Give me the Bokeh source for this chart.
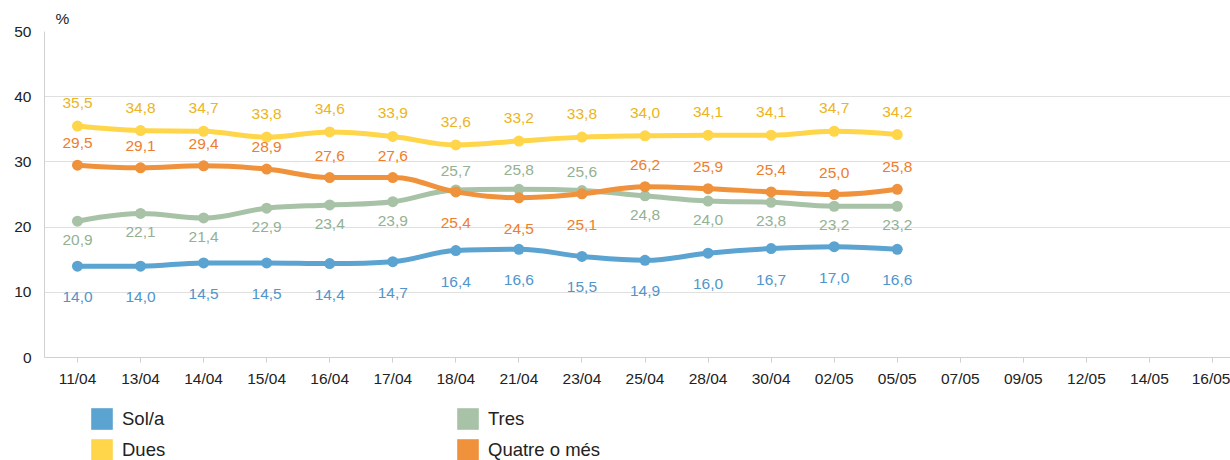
from bokeh.plotting import figure
from bokeh.layouts import column
from bokeh.models import Range1d, FixedTicker, Legend, LegendItem, ColumnDataSource
from bokeh.core.properties import value
from bokeh.embed import file_html
from bokeh.resources import INLINE

# ---- data ----
dates = ["11/04", "13/04", "14/04", "15/04", "16/04", "17/04", "18/04", "21/04",
         "23/04", "25/04", "28/04", "30/04", "02/05", "05/05", "07/05", "09/05",
         "12/05", "14/05", "16/05"]
sola = [14.0, 14.0, 14.5, 14.5, 14.4, 14.7, 16.4, 16.6, 15.5, 14.9, 16.0, 16.7, 17.0, 16.6]
dues = [35.5, 34.8, 34.7, 33.8, 34.6, 33.9, 32.6, 33.2, 33.8, 34.0, 34.1, 34.1, 34.7, 34.2]
tres = [20.9, 22.1, 21.4, 22.9, 23.4, 23.9, 25.7, 25.8, 25.6, 24.8, 24.0, 23.8, 23.2, 23.2]
quatre = [29.5, 29.1, 29.4, 28.9, 27.6, 27.6, 25.4, 24.5, 25.1, 26.2, 25.9, 25.4, 25.0, 25.8]
series_names = ["Sol/a", "Dues", "Tres", "Quatre o més"]
y_ticks = [0, 10, 20, 30, 40, 50]

FONT = "Liberation Sans"
line_colors = {"Sol/a": "#5ba3d0", "Dues": "#ffd54a", "Tres": "#a7c2a7", "Quatre o més": "#f0923b"}
label_colors = {"Sol/a": "#5096cc", "Dues": "#ecb420", "Tres": "#93b193", "Quatre o més": "#ee7d2d"}


def spline_segments(xs, ys, smoothing=1.5):
    n = len(xs)
    left = [(xs[i], ys[i]) for i in range(n)]
    right = [(xs[i], ys[i]) for i in range(n)]
    d = smoothing + 1
    for i in range(1, n - 1):
        lx, ly = xs[i - 1], ys[i - 1]
        px, py = xs[i], ys[i]
        nx, ny = xs[i + 1], ys[i + 1]
        lcx = (smoothing * px + lx) / d
        lcy = (smoothing * py + ly) / d
        rcx = (smoothing * px + nx) / d
        rcy = (smoothing * py + ny) / d
        if rcx != lcx:
            corr = (rcy - lcy) * (rcx - px) / (rcx - lcx) + py - rcy
            lcy += corr
            rcy += corr
            if lcy > ly and lcy > py:
                lcy = max(ly, py); rcy = 2 * py - lcy
            elif lcy < ly and lcy < py:
                lcy = min(ly, py); rcy = 2 * py - lcy
            if rcy > ny and rcy > py:
                rcy = max(ny, py); lcy = 2 * py - rcy
            elif rcy < ny and rcy < py:
                rcy = min(ny, py); lcy = 2 * py - rcy
        left[i] = (lcx, lcy)
        right[i] = (rcx, rcy)
    seg = dict(x0=[], y0=[], x1=[], y1=[], cx0=[], cy0=[], cx1=[], cy1=[])
    for i in range(n - 1):
        seg["x0"].append(xs[i]); seg["y0"].append(ys[i])
        seg["x1"].append(xs[i + 1]); seg["y1"].append(ys[i + 1])
        seg["cx0"].append(right[i][0]); seg["cy0"].append(right[i][1])
        seg["cx1"].append(left[i + 1][0]); seg["cy1"].append(left[i + 1][1])
    return seg


p = figure(width=1230, height=390, output_backend="svg", toolbar_location=None,
           x_range=Range1d(-0.523, 18.285), y_range=Range1d(0, 50),
           min_border_left=44, min_border_right=0, min_border_top=31, min_border_bottom=33)
p.outline_line_color = None
p.background_fill_color = "white"

# title used as the "%" unit marker
p.title.text = "%"
p.title.align = "left"
p.title.offset = 11
p.title.standoff = 10
p.title.text_font = FONT
p.title.text_font_size = "15.5px"
p.title.text_font_style = "normal"
p.title.text_color = "#222222"

# axes
p.xaxis.ticker = FixedTicker(ticks=list(range(len(dates))))
p.xaxis.major_label_overrides = {i: d for i, d in enumerate(dates)}
p.xaxis.axis_line_color = "#d0d0d0"
p.xaxis.major_tick_line_color = "#d0d0d0"
p.xaxis.major_tick_out = 5
p.xaxis.major_tick_in = 0
p.xaxis.minor_tick_line_color = None
p.xaxis.major_label_standoff = 7
p.yaxis.ticker = FixedTicker(ticks=y_ticks)
p.yaxis.axis_line_color = "#d0d0d0"
p.yaxis.major_tick_line_color = None
p.yaxis.minor_tick_line_color = None
p.yaxis.major_tick_out = 0
p.yaxis.major_tick_in = 0
p.yaxis.major_label_standoff = 13
for ax in (p.xaxis, p.yaxis):
    ax.major_label_text_font = FONT
    ax.major_label_text_font_size = "15.5px"
    ax.major_label_text_color = "#222222"
p.xgrid.grid_line_color = None
p.ygrid.grid_line_color = "#e0e0e0"
p.ygrid.grid_line_width = 1

xs = list(range(len(sola)))
data = {"Sol/a": sola, "Dues": dues, "Tres": tres, "Quatre o més": quatre}
draw_order = ["Sol/a", "Dues", "Tres", "Quatre o més"]

for name in draw_order:
    ys = data[name]
    seg = spline_segments(xs, ys)
    p.bezier(x0="x0", y0="y0", x1="x1", y1="y1", cx0="cx0", cy0="cy0", cx1="cx1", cy1="cy1",
             source=ColumnDataSource(seg), line_color=line_colors[name], line_width=5,
             line_cap="round")
    p.scatter(xs, ys, size=11, marker="circle", fill_color=line_colors[name], line_color=None)

# data labels
for name in draw_order:
    ys = data[name]
    offs = []
    for i, v in enumerate(ys):
        if name == "Dues":
            offs.append(-23)
        elif name == "Sol/a":
            offs.append(31)
        elif name == "Tres":
            offs.append(-19 if tres[i] > quatre[i] else 19)
        else:
            offs.append(-22 if quatre[i] > tres[i] else 31)
    src = ColumnDataSource(dict(x=xs, y=ys, t=[f"{v:.1f}".replace(".", ",") for v in ys], off=offs))
    p.text(x="x", y="y", text="t", y_offset="off", source=src, text_align="center",
           text_baseline="middle", text_font=value(FONT), text_font_size="15.5px",
           text_color=label_colors[name])

# legend in its own strip below the chart
lg = figure(width=1230, height=70, output_backend="svg", toolbar_location=None,
            x_range=Range1d(0, 1), y_range=Range1d(0, 1),
            min_border_left=0, min_border_right=0, min_border_top=0, min_border_bottom=0)
lg.axis.visible = False
lg.grid.visible = False
lg.outline_line_color = None
nan = float("nan")
items = []
for name in series_names:
    r = lg.quad(left=[nan], right=[nan], top=[nan], bottom=[nan],
                fill_color=line_colors[name], line_color=None)
    items.append(LegendItem(label=name, renderers=[r]))
legend = Legend(items=items, location=(44, -3), orientation="vertical", nrows=2,
                glyph_width=27, glyph_height=27, label_standoff=7, spacing=4,
                padding=0, margin=0, border_line_color=None, background_fill_alpha=0,
                label_text_font=FONT, label_text_font_size="18.5px", label_text_color="#222222",
                label_width=328, label_height=21)
lg.add_layout(legend, "center")

layout = column(p, lg, spacing=0)
open("out.html", "w").write(file_html(layout, INLINE))
